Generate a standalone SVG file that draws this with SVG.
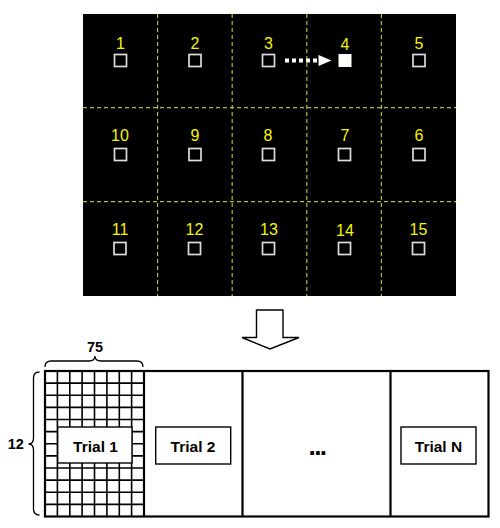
<svg xmlns="http://www.w3.org/2000/svg" width="500" height="528" viewBox="0 0 500 528">
<style>
.dash{stroke:#b8b63c;stroke-width:1.2;stroke-dasharray:4 3;fill:none}
.num{font-family:"Liberation Sans",Arial,sans-serif;font-size:16px;fill:#f5f500;text-anchor:middle}
.sq{fill:none;stroke:#dcdcdc;stroke-width:1.7}
.grid{stroke:#000;stroke-width:1.6;fill:none}
.frame{stroke:#000;stroke-width:2.2;fill:none}
.box{fill:#fff;stroke:#000;stroke-width:1.4}
.lbl{font-family:"Liberation Sans",Arial,sans-serif;font-weight:bold;font-size:15.5px;fill:#000;text-anchor:middle}
.dim{font-family:"Liberation Sans",Arial,sans-serif;font-weight:bold;font-size:14.5px;fill:#000;text-anchor:middle}
.brace{fill:none;stroke:#000;stroke-width:1.3}
</style>
<rect width="500" height="528" fill="#fff"/>
<g id="screen">
<rect x="83" y="14" width="373" height="282" fill="#000"/>
<line class="dash" x1="157.6" y1="14" x2="157.6" y2="296"/>
<line class="dash" x1="232.2" y1="14" x2="232.2" y2="296"/>
<line class="dash" x1="306.8" y1="14" x2="306.8" y2="296"/>
<line class="dash" x1="381.4" y1="14" x2="381.4" y2="296"/>
<line class="dash" x1="83" y1="107.7" x2="456" y2="107.7"/>
<line class="dash" x1="83" y1="201.7" x2="456" y2="201.7"/>
</g>
<g id="target-1"><text class="num" x="120.5" y="48.5">1</text><rect class="sq" x="114.5" y="54.5" width="12" height="12"/></g>
<g id="target-2"><text class="num" x="195" y="48.5">2</text><rect class="sq" x="189" y="54.5" width="12" height="12"/></g>
<g id="target-3"><text class="num" x="268.5" y="48.5">3</text><rect class="sq" x="262.5" y="54.5" width="12" height="12"/></g>
<g id="target-4"><text class="num" x="345" y="49.5">4</text><rect x="338.5" y="54" width="13" height="13" fill="#fff"/></g>
<g id="target-5"><text class="num" x="419" y="48.5">5</text><rect class="sq" x="413" y="54.5" width="12" height="12"/></g>
<g id="target-10"><text class="num" x="120" y="140.5">10</text><rect class="sq" x="114.5" y="148.5" width="12" height="12"/></g>
<g id="target-9"><text class="num" x="195" y="140.5">9</text><rect class="sq" x="189" y="148.5" width="12" height="12"/></g>
<g id="target-8"><text class="num" x="268" y="140.5">8</text><rect class="sq" x="262.5" y="148.5" width="12" height="12"/></g>
<g id="target-7"><text class="num" x="345" y="140.5">7</text><rect class="sq" x="338.5" y="148.5" width="12" height="12"/></g>
<g id="target-6"><text class="num" x="419" y="140.5">6</text><rect class="sq" x="413" y="148.5" width="12" height="12"/></g>
<g id="target-11"><text class="num" x="120" y="234.5">11</text><rect class="sq" x="114" y="242.5" width="12" height="12"/></g>
<g id="target-12"><text class="num" x="194.5" y="234.5">12</text><rect class="sq" x="188.5" y="242.5" width="12" height="12"/></g>
<g id="target-13"><text class="num" x="269" y="234.5">13</text><rect class="sq" x="262.5" y="242.5" width="12" height="12"/></g>
<g id="target-14"><text class="num" x="345" y="236">14</text><rect class="sq" x="338.5" y="242.5" width="12" height="12"/></g>
<g id="target-15"><text class="num" x="418.5" y="234.5">15</text><rect class="sq" x="412.5" y="242.5" width="12" height="12"/></g>
<g id="connectors">
<line x1="285" y1="60.5" x2="320" y2="60.5" stroke="#fff" stroke-width="4" stroke-dasharray="4 3"/>
<polygon points="318.5,55 331.5,60.5 318.5,66" fill="#fff"/>
<polygon points="256.5,310 283,310 283,337.5 299,337.5 270,349 242,337.5 256.5,337.5" fill="#fff" stroke="#000" stroke-width="1.4" stroke-linejoin="miter"/>
</g>
<g id="matrix">
<g class="grid">
<line x1="57.4" y1="371" x2="57.4" y2="516.5"/>
<line x1="69.8" y1="371" x2="69.8" y2="516.5"/>
<line x1="82.1" y1="371" x2="82.1" y2="516.5"/>
<line x1="94.5" y1="371" x2="94.5" y2="516.5"/>
<line x1="106.9" y1="371" x2="106.9" y2="516.5"/>
<line x1="119.3" y1="371" x2="119.3" y2="516.5"/>
<line x1="131.6" y1="371" x2="131.6" y2="516.5"/>
<line x1="45" y1="383.1" x2="144" y2="383.1"/>
<line x1="45" y1="395.2" x2="144" y2="395.2"/>
<line x1="45" y1="407.4" x2="144" y2="407.4"/>
<line x1="45" y1="419.5" x2="144" y2="419.5"/>
<line x1="45" y1="431.6" x2="144" y2="431.6"/>
<line x1="45" y1="443.8" x2="144" y2="443.8"/>
<line x1="45" y1="455.9" x2="144" y2="455.9"/>
<line x1="45" y1="468" x2="144" y2="468"/>
<line x1="45" y1="480.1" x2="144" y2="480.1"/>
<line x1="45" y1="492.3" x2="144" y2="492.3"/>
<line x1="45" y1="504.4" x2="144" y2="504.4"/>
</g>
<rect class="frame" x="45" y="371" width="443.5" height="145.5"/>
<line class="frame" x1="144" y1="371" x2="144" y2="516.5"/>
<line class="frame" x1="242.5" y1="371" x2="242.5" y2="516.5"/>
<line class="frame" x1="390.5" y1="371" x2="390.5" y2="516.5"/>
</g>
<g id="trial-1"><rect class="box" x="57.7" y="427" width="74.3" height="36"/><text class="lbl" x="95.5" y="451.5">Trial 1</text></g>
<g id="trial-2"><rect class="box" x="155.7" y="427" width="75" height="37"/><text class="lbl" x="193" y="451.5">Trial 2</text></g>
<g id="trial-gap"><text class="lbl" x="317" y="455" style="font-size:26px;letter-spacing:-1.5px">...</text></g>
<g id="trial-n"><rect class="box" x="401" y="427" width="75" height="37"/><text class="lbl" x="438.5" y="451.5">Trial N</text></g>
<g id="dim-75">
<path class="brace" d="M45,367 Q45,361 51,361 L89,361 Q95,361 95,356 Q95,361 101,361 L137,361 Q143,361 143,367"/>
<text class="dim" x="95" y="351.5">75</text>
</g>
<g id="dim-12">
<path class="brace" d="M39.5,372 Q33.5,372 33.5,378 L33.5,438 Q33.5,444 28.5,444 Q33.5,444 33.5,450 L33.5,509 Q33.5,515 39.5,515"/>
<text class="dim" x="15.7" y="448.5">12</text>
</g>
</svg>
